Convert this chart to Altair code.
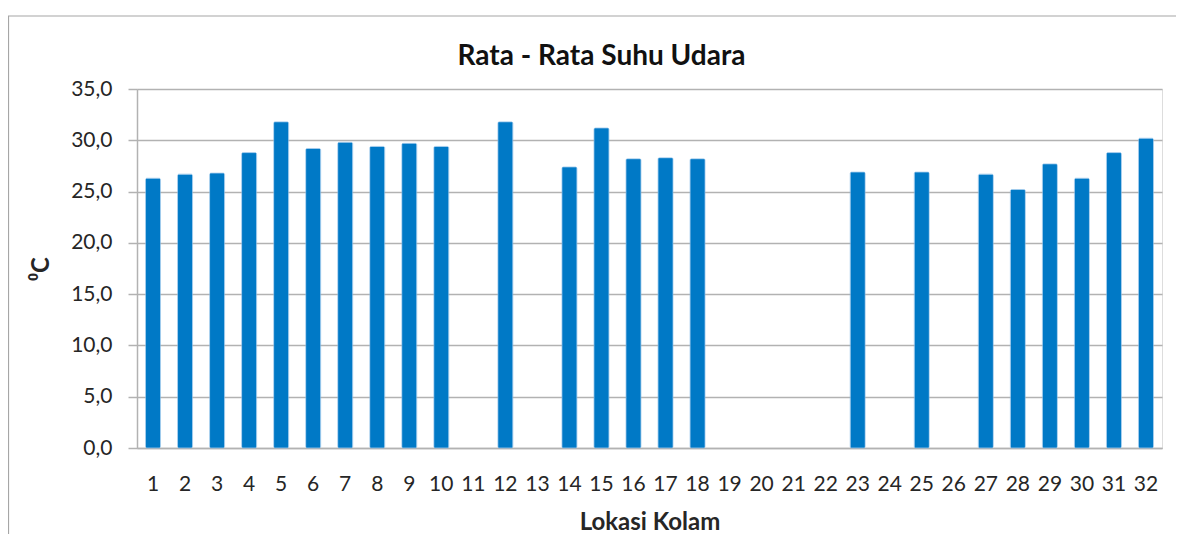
import altair as alt
import pandas as pd

categories = [str(i) for i in range(1, 33)]
values = [26.3, 26.7, 26.8, 28.8, 31.8, 29.2, 29.8, 29.4, 29.7, 29.4,
          None, 31.8, None, 27.4, 31.2, 28.2, 28.3, 28.2, None, None,
          None, None, 26.9, None, 26.9, None, 26.7, 25.2, 27.7, 26.3,
          28.8, 30.2]
y_ticks = [0, 5, 10, 15, 20, 25, 30, 35]

title_text = "Rata - Rata Suhu Udara"
x_title = "Lokasi Kolam"
y_title = "\u2070C"

FONT = "Lato"
GRID = "#B2B2B2"
TEXT = "#262626"

df = pd.DataFrame({"Lokasi": categories, "Suhu": values}).dropna()

bars = alt.Chart(df).mark_bar(size=15, color="#0079C6", cornerRadius=1.5,
                              stroke="#7FB8E6", strokeWidth=0.6).encode(
    x=alt.X("Lokasi:N",
            scale=alt.Scale(domain=categories, paddingInner=0, paddingOuter=0),
            axis=alt.Axis(title=x_title, labelAngle=0, ticks=False,
                          domain=True, domainColor=GRID, domainWidth=1.5,
                          labelFont=FONT, labelFontSize=21, labelColor=TEXT,
                          labelPadding=25,
                          titleFont=FONT, titleFontSize=24, titleFontWeight="bold",
                          titleColor=TEXT, titleY=81, titleBaseline="alphabetic")),
    y=alt.Y("Suhu:Q",
            scale=alt.Scale(domain=[0, 35], nice=False),
            axis=alt.Axis(title=y_title, values=y_ticks,
                          labelExpr="replace(format(datum.value, '.1f'), '.', ',')",
                          grid=True, gridColor=GRID, gridWidth=1.5,
                          domain=True, domainColor=GRID, domainWidth=1.5,
                          ticks=True, tickColor=GRID, tickSize=9, tickWidth=1.5,
                          labelFont=FONT, labelFontSize=21, labelColor=TEXT,
                          labelPadding=16,
                          titleFont=FONT, titleFontSize=24, titleFontWeight="bold",
                          titleColor=TEXT, titleAngle=-90, titleX=-96, titleY=179.5,
                          titleAlign="center", titleBaseline="middle")),
)

border = alt.Chart(pd.DataFrame({"b": [0]})).mark_rect(
    fillOpacity=0, stroke="#A6A6A6", strokeWidth=1.2).encode(
    x=alt.value(-128.5), x2=alt.value(1100), y=alt.value(-73), y2=alt.value(600))

chart = alt.layer(border, bars).properties(
    width=1025, height=359,
    title=alt.TitleParams(title_text, font=FONT, fontSize=28, fontWeight="bold",
                          color="#111111", anchor="middle", frame="group",
                          dx=-48, offset=-78, baseline="alphabetic"),
    autosize=alt.AutoSizeParams(type="none"),
    padding={"left": 129, "top": 81, "right": 14, "bottom": 86},
).configure_view(stroke=None).configure(background="white")

chart.save("out.html", embed_options={"renderer": "svg", "actions": False})
